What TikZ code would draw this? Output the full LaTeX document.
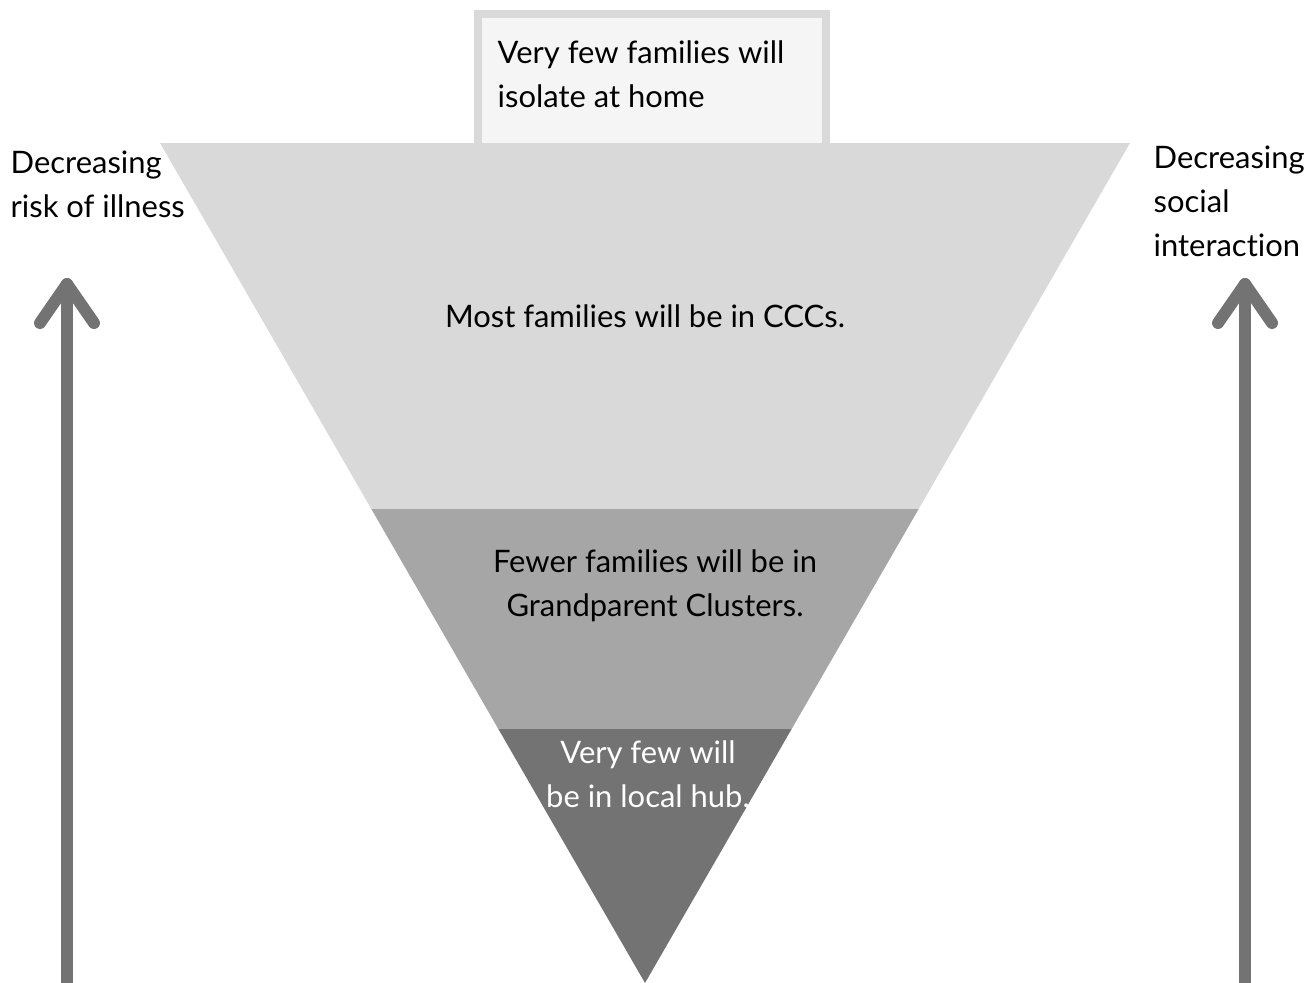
\documentclass[tikz,border=0pt]{standalone}
\usepackage{fontspec}
\setmainfont{Lato}[Ligatures=NoCommon]
\definecolor{bandA}{HTML}{D9D9D9}
\definecolor{bandB}{HTML}{A6A6A6}
\definecolor{bandC}{HTML}{737373}
\definecolor{boxfill}{HTML}{F5F5F5}
\tikzset{
  lbl/.style={font=\fontsize{8.8}{12.5}\selectfont, inner sep=0pt, align=left},
  mid/.style={font=\fontsize{8.8}{12.5}\selectfont, inner sep=0pt, align=center},
  uparrow/.style={draw=bandC, line width=3.4pt, line cap=round, line join=round}
}
\begin{document}
\begin{tikzpicture}[x=0.01cm, y=-0.01cm]
\useasboundingbox (0,0) rectangle (1312,983);
% top box
\draw[draw=bandA, fill=boxfill, line width=2.3pt] (478,14) rectangle (826,150);
\node[lbl, anchor=north west] (box) at (497,40) {Very few families will\\isolate at home};
% funnel
\coordinate (tl) at (160,143);
\coordinate (tr) at (1130,143);
\coordinate (ap) at (645,983);
\begin{scope}
\clip (tl) -- (tr) -- (ap) -- cycle;
\fill[bandA] (150,143) rectangle (1140,509);
\fill[bandB] (150,509) rectangle (1140,729);
\fill[bandC] (150,729) rectangle (1140,990);
\end{scope}
\node[mid] (ccc) at (645,316) {Most families will be in CCCs.};
\node[mid] (gpc) at (655,586) {Fewer families will be in\\Grandparent Clusters.};
\node[mid, text=white] (hub) at (648,774) {Very few will\\be in local hub.};
% side labels
\node[lbl, anchor=north west] (risk) at (10,150) {Decreasing\\risk of illness};
\node[lbl, anchor=north west] (soc) at (1153,145) {Decreasing\\social\\interaction};
% arrows
\coordinate (la0) at (67,990);
\coordinate (la1) at (67,284);
\coordinate (ra0) at (1245,990);
\coordinate (ra1) at (1245,284);
\draw[uparrow] (la0) -- (la1);
\draw[uparrow] (40,323) -- (la1) -- (94,323);
\draw[uparrow] (ra0) -- (ra1);
\draw[uparrow] (1218,323) -- (ra1) -- (1272,323);
\end{tikzpicture}
\end{document}
